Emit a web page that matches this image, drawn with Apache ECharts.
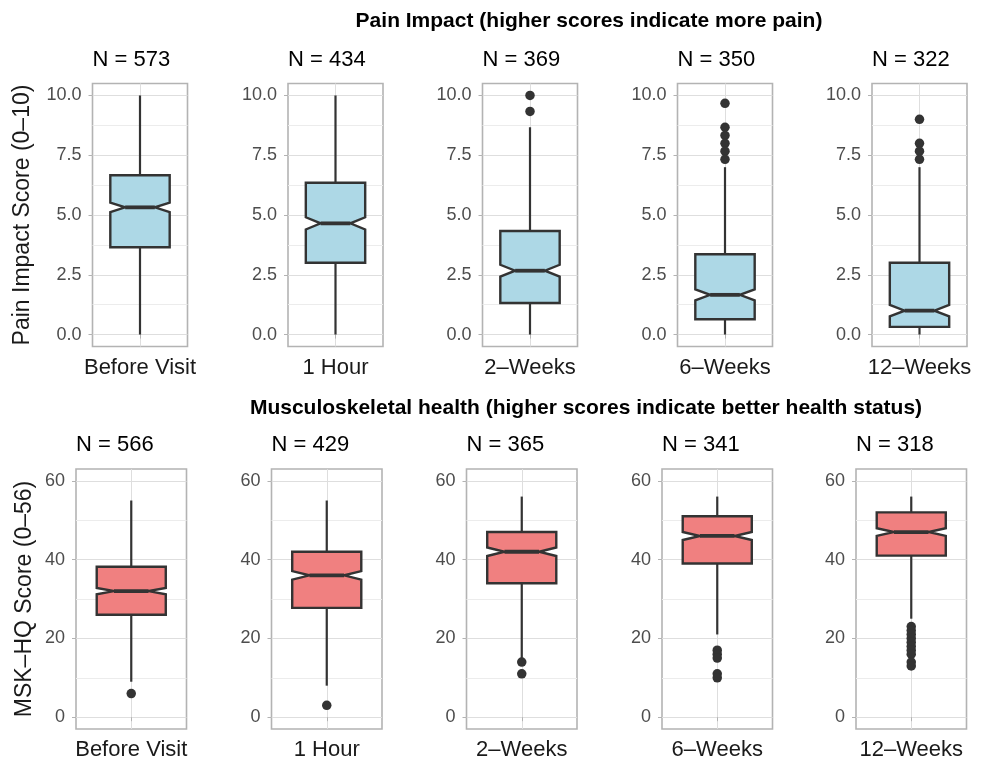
<!DOCTYPE html>
<html>
<head>
<meta charset="utf-8">
<script src="https://cdn.jsdelivr.net/npm/echarts@6/dist/echarts.min.js"></script>
<style>
  html, body { margin: 0; padding: 0; background: #fff; }
  #chart { width: 989px; height: 761px; }
</style>
</head>
<body>
<div id="chart"></div>
<script>
// time points (one panel per time point)
const timepoints = ['Before Visit', '1 Hour', '2–Weeks', '6–Weeks', '12–Weeks'];

// Pain impact, 0-10
const painN = [573, 434, 369, 350, 322];
const painMin = [0, 0, 0, 0, 0];
const painQ1 = [3.65, 3.0, 1.32, 0.64, 0.32];
const painMedian = [5.32, 4.65, 2.67, 1.66, 1.0];
const painQ3 = [6.66, 6.35, 4.33, 3.36, 3.0];
const painMax = [10, 10, 8.67, 7.0, 7.0];
const painOutliers = [[], [], [10, 9.33], [9.67, 8.67, 8.33, 8.0, 7.67, 7.33], [9.0, 8.0, 7.67, 7.33]];
const painTicks = [0, 2.5, 5, 7.5, 10];
const painMinorTicks = [1.25, 3.75, 6.25, 8.75];
const painRange = [-0.5, 10.5];

// MSK-HQ, 0-56
const mskN = [566, 429, 365, 341, 318];
const mskMin = [9, 8, 15, 21, 25];
const mskQ1 = [26, 27.75, 34, 39, 41];
const mskMedian = [32, 36, 42, 46, 47];
const mskQ3 = [38.2, 42, 47, 51, 52];
const mskMax = [55, 55, 56, 56, 56];
const mskOutliers = [[6], [3], [14, 11], [17, 16, 15, 11, 10], [23, 22, 21, 20, 19, 18, 17, 16, 14, 13]];
const mskTicks = [0, 20, 40, 60];
const mskMinorTicks = [10, 30, 50];
const mskRange = [-3, 63];

const FONT = 'Liberation Sans';

// panel layout (px)
const topLefts = [92.5, 288, 482.5, 677.5, 872];
const topW = 95;
const topY = 83.5, topH = 263;
const botLefts = [76, 271.5, 466.5, 662, 856];
const botW = 110.5;
const botY = 469, botH = 263;

// ggplot style notched box
function renderNotchBox(params, api) {
  const x = api.value(0);
  const pMin = api.coord([x, api.value(1)]);
  const pQ1 = api.coord([x, api.value(2)]);
  const pMed = api.coord([x, api.value(3)]);
  const pQ3 = api.coord([x, api.value(4)]);
  const pMax = api.coord([x, api.value(5)]);
  const pNLo = api.coord([x, api.value(6)]);
  const pNHi = api.coord([x, api.value(7)]);
  const hw = api.size([0.375, 0])[0];
  const cx = pMed[0];
  const L = cx - hw, R = cx + hw;
  const iL = cx - hw * 0.5, iR = cx + hw * 0.5;
  const fill = api.visual('color');
  const stroke = '#333333';
  return {
    type: 'group',
    children: [
      { type: 'line', shape: { x1: cx, y1: pQ3[1], x2: cx, y2: pMax[1] }, style: { stroke, lineWidth: 2.2 } },
      { type: 'line', shape: { x1: cx, y1: pQ1[1], x2: cx, y2: pMin[1] }, style: { stroke, lineWidth: 2.2 } },
      {
        type: 'polygon',
        shape: {
          points: [
            [L, pQ3[1]], [R, pQ3[1]], [R, pNHi[1]], [iR, pMed[1]], [R, pNLo[1]],
            [R, pQ1[1]], [L, pQ1[1]], [L, pNLo[1]], [iL, pMed[1]], [L, pNHi[1]]
          ]
        },
        style: { fill, stroke, lineWidth: 2.4, lineJoin: 'miter' }
      },
      { type: 'line', shape: { x1: iL, y1: pMed[1], x2: iR, y2: pMed[1] }, style: { stroke, lineWidth: 3.8 } }
    ]
  };
}

function boxRow(n, mn, q1, med, q3, mx) {
  return n.map((cnt, i) => {
    const half = 1.58 * (q3[i] - q1[i]) / Math.sqrt(cnt);
    return [1, mn[i], q1[i], med[i], q3[i], mx[i], med[i] - half, med[i] + half];
  });
}

const painBoxes = boxRow(painN, painMin, painQ1, painMedian, painQ3, painMax);
const mskBoxes = boxRow(mskN, mskMin, mskQ1, mskMedian, mskQ3, mskMax);

const grid = [], xAxis = [], yAxis = [], series = [], graphic = [];

function addPanel(idx, left, top, width, height, box, outliers, ticks, minorTicks, range, color, fmt, yName, nameGap, nLabel) {
  grid.push({
    left, top, width, height, show: true, backgroundColor: '#fff',
    borderColor: '#b3b3b3', borderWidth: 1.6
  });
  xAxis.push({
    type: 'value', gridIndex: idx, min: 0.4, max: 1.6,
    axisLine: { show: false },
    axisTick: { show: true, customValues: [1], length: 4, lineStyle: { color: '#b3b3b3', width: 1 } },
    axisLabel: {
      customValues: [1], margin: 10, color: '#1a1a1a', fontSize: 22, fontFamily: FONT,
      formatter: () => timepoints[idx % 5]
    },
    splitLine: { show: true, lineStyle: { color: '#dedede', width: 1 } }
  });
  yAxis.push({
    type: 'value', gridIndex: idx, min: range[0], max: range[1],
    name: yName, nameLocation: 'middle', nameRotate: 90, nameGap,
    nameTextStyle: { fontSize: 23, color: '#1a1a1a', fontFamily: FONT },
    axisLine: { show: false },
    axisTick: { show: true, customValues: ticks, length: 4, lineStyle: { color: '#b3b3b3', width: 1 } },
    axisLabel: { customValues: ticks, margin: 11, color: '#4d4d4d', fontSize: 18, fontFamily: FONT, formatter: fmt },
    splitLine: { show: true, lineStyle: { color: '#dedede', width: 1 } }
  });
  yAxis.push({
    type: 'value', gridIndex: idx, min: range[0], max: range[1],
    axisLine: { show: false },
    axisTick: { show: false, customValues: minorTicks },
    axisLabel: { show: false },
    splitLine: { show: true, lineStyle: { color: '#ececec', width: 1 } }
  });
  series.push({
    type: 'custom', xAxisIndex: idx, yAxisIndex: idx * 2,
    renderItem: renderNotchBox,
    itemStyle: { color },
    encode: { x: 0, y: [1, 2, 3, 4, 5, 6, 7] },
    data: [box], z: 3
  });
  series.push({
    type: 'scatter', xAxisIndex: idx, yAxisIndex: idx * 2,
    symbolSize: 9.5, itemStyle: { color: '#333333', opacity: 1 },
    data: outliers.map(v => [1, v]), z: 4, silent: true
  });
  graphic.push({
    type: 'text', x: left, y: top - 24,
    style: { text: nLabel, fontSize: 22, fontFamily: FONT, fill: '#000', verticalAlign: 'middle' }
  });
}

for (let i = 0; i < 5; i++) {
  addPanel(i, topLefts[i], topY, topW, topH, painBoxes[i], painOutliers[i],
    painTicks, painMinorTicks, painRange, '#ADD8E6', v => v.toFixed(1),
    i === 0 ? 'Pain Impact Score (0–10)' : '', 58, 'N = ' + painN[i]);
}
for (let i = 0; i < 5; i++) {
  addPanel(i + 5, botLefts[i], botY, botW, botH, mskBoxes[i], mskOutliers[i],
    mskTicks, mskMinorTicks, mskRange, '#F08080', v => String(v),
    i === 0 ? 'MSK–HQ Score (0–56)' : '', 40, 'N = ' + mskN[i]);
}

graphic.push({
  type: 'text', x: 589, y: 21,
  style: { text: 'Pain Impact (higher scores indicate more pain)', fontSize: 21, fontWeight: 'bold',
    fontFamily: FONT, fill: '#000', align: 'center', verticalAlign: 'middle' }
});
graphic.push({
  type: 'text', x: 586, y: 408,
  style: { text: 'Musculoskeletal health (higher scores indicate better health status)', fontSize: 21, fontWeight: 'bold',
    fontFamily: FONT, fill: '#000', align: 'center', verticalAlign: 'middle' }
});

const chart = echarts.init(document.getElementById('chart'), null, { renderer: 'canvas' });
chart.setOption({
  backgroundColor: '#ffffff',
  animation: false,
  grid, xAxis, yAxis, series, graphic
});
</script>
</body>
</html>
